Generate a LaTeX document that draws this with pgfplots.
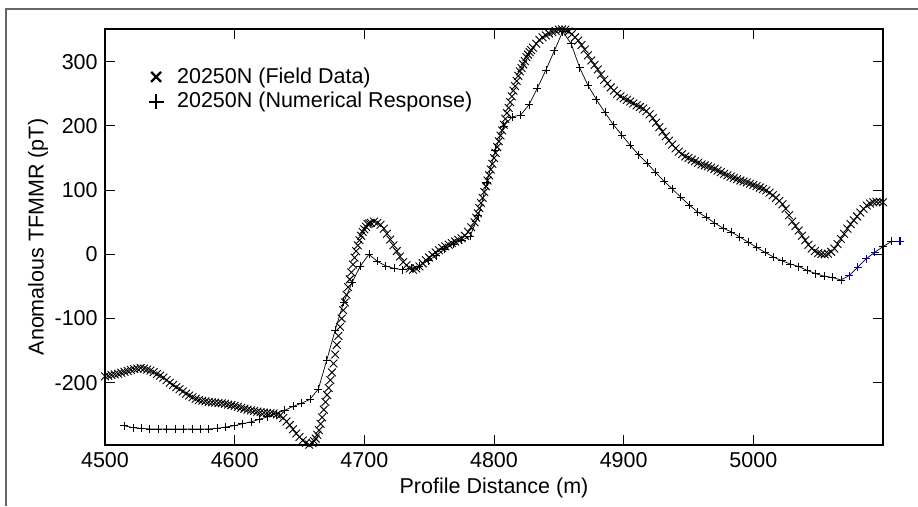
\documentclass[border=0pt]{standalone}
\usepackage{pgfplots}
\pgfplotsset{compat=1.18}
\usepackage{fontspec}
\setmainfont{Liberation Sans}
\begin{document}
\fontsize{21.5}{25}\selectfont
\begin{tikzpicture}[x=1pt,y=1pt]
\useasboundingbox (0,0) rectangle (918,506);
\begin{axis}[
  at={(105pt,61pt)}, anchor=south west,
  scale only axis, width=778pt, height=416pt,
  xmin=4500, xmax=5100, ymin=-297, ymax=351,
  clip=false,
  xtick={4500,4600,4700,4800,4900,5000},
  ytick={-200,-100,0,100,200,300},
  tick align=inside, major tick length=10pt,
  every tick/.style={black, line width=0.9pt},
  axis line style={line width=1.1pt},
  /pgf/number format/assume math mode=true,
  /pgf/number format/1000 sep={},
  tick label style={font=\fontsize{21.5}{25}\selectfont},
  label style={font=\fontsize{21.5}{25}\selectfont},
  xlabel={Profile Distance (m)},
  ylabel={Anomalous TFMMR (pT)},
  xlabel style={yshift=4pt},
  ylabel style={yshift=-8pt},
  legend cell align=left,
  legend image code/.code={\path[draw=none,fill=none] (-9pt,-6pt) (20pt,6pt); \draw[#1] plot coordinates {(0pt,0pt)};},
  legend style={draw=none, fill=none, font=\fontsize{21.5}{25}\selectfont,
    column sep=0pt, row sep=4pt,
    nodes={inner sep=1pt}, at={(axis description cs:0.05,0.915)}, anchor=north west},
]
\addlegendimage{only marks, mark=x, mark size=7, mark options={line width=2.3pt}, black}
\addlegendentry{20250N (Field Data)}
\addlegendimage{only marks, mark=+, mark size=7.5, mark options={line width=1.6pt}, black}
\addlegendentry{20250N (Numerical Response)}

\addplot[forget plot, only marks, mark=x, mark size=5.5, black, mark options={line width=0.9pt}] table {
x y
4500 -190
4502.5 -189
4505 -188
4507.5 -187
4510 -186
4512.5 -184.5
4515 -183
4517.5 -181.5
4520 -180
4522.5 -179
4525 -178
4527.5 -177
4530 -178
4532.5 -179.5
4535 -181
4537.5 -183.5
4540 -186.5
4542.5 -189
4545 -192
4547.5 -196
4550 -200
4552.5 -203.5
4555 -207
4557.5 -210
4560 -213.5
4562.5 -217
4565 -220
4567.5 -222.5
4570 -225
4572.5 -227
4575 -228
4577.5 -229
4580 -230
4582.5 -230.5
4585 -231
4587.5 -231.5
4590 -232
4592.5 -233
4595 -234
4597.5 -235
4600 -236
4602.5 -237.5
4605 -239
4607.5 -240.5
4610 -242
4612.5 -243
4615 -244
4617.5 -245
4620 -246
4622.5 -246.5
4625 -247
4627.5 -247.5
4630 -248
4632.5 -249.5
4635 -251
4637.5 -255
4640 -260.5
4642.5 -266
4645 -272.5
4647.5 -279
4650 -284.5
4652.5 -290
4655 -293.5
4657.5 -296.5
4660 -294
4662.5 -287
4665 -274
4667.5 -254
4670 -230
4672.5 -208
4675 -184
4677.5 -156
4680 -127
4682.5 -100
4685 -75
4687.5 -51
4690 -28
4692.5 -5
4695 14
4697.5 29
4700 39
4702.5 47
4705 49
4707.5 51
4710 49
4712.5 46
4715 40
4717.5 32
4720 23
4722.5 14
4725 5
4727.5 -3.5
4730 -12
4732.5 -17
4735 -22
4737.5 -24
4740 -22
4742.5 -19
4745 -14
4747.5 -9
4750 -5
4752.5 -1
4755 3
4757.5 6.5
4760 10
4762.5 12.5
4765 15
4767.5 17.5
4770 20
4772.5 22.5
4775 25
4777.5 29
4780 35
4782.5 42
4785 50
4787.5 64
4790 80
4792.5 97
4795 115
4797.5 132
4800 150
4802.5 167
4805 185
4807.5 202
4810 220
4812.5 237
4815 255
4817.5 270
4820 285
4822.5 296
4825 307
4827.5 315
4830 322
4832.5 328
4835 334
4837.5 338
4840 341
4842.5 344
4845 346
4847.5 348
4850 350
4852.5 350.5
4855 350
4857.5 347
4860 343
4862.5 338
4865 333
4867.5 326
4870 319
4872.5 310
4875 302
4877.5 295
4880 288
4882.5 280
4885 272
4887.5 266
4890 260
4892.5 255
4895 250
4897.5 246
4900 243
4902.5 240.5
4905 238
4907.5 235
4910 232
4912.5 229.5
4915 227
4917.5 223
4920 218
4922.5 212
4925 205
4927.5 198
4930 191
4932.5 184
4935 177
4937.5 171
4940 165
4942.5 160
4945 156
4947.5 152.5
4950 150
4952.5 147.5
4955 145
4957.5 142.5
4960 140
4962.5 138.5
4965 137
4967.5 135
4970 133
4972.5 130.5
4975 128
4977.5 125.5
4980 123
4982.5 121
4985 119
4987.5 117
4990 115
4992.5 113.5
4995 112
4997.5 110
5000 108
5002.5 106
5005 104
5007.5 102
5010 99.5
5012.5 96
5015 92
5017.5 88
5020 83
5022.5 78
5025 71
5027.5 61
5030 51
5032.5 44
5035 37
5037.5 29
5040 22
5042.5 15
5045 9
5047.5 5
5050 2
5052.5 0.5
5055 0
5057.5 1
5060 4
5062.5 9
5065 16
5067.5 24
5070 32
5072.5 40
5075 47
5077.5 53
5080 59
5082.5 65
5085 71
5087.5 76
5090 79
5092.5 81
5095 82
5097.5 82
5100 81
4661.25 -291
4663.75 -281
4666.25 -264
4668.75 -242
4671.25 -219
4673.75 -196
4676.25 -170
4678.75 -141
4681.25 -113
4683.75 -87
4686.25 -63
4688.75 -39
4691.25 -16
4693.75 5
4696.25 22
4698.75 35
4701.25 43
4703.75 48
4786.25 57
4788.75 72
4791.25 88
4793.75 106
4796.25 123
4798.75 141
4801.25 158
4803.75 176
4806.25 193
4808.75 211
4811.25 228
4813.75 246
4816.25 262
4818.75 278
4821.25 290
4823.75 301
4826.25 311
4828.75 318
};

\addplot[forget plot, black, line width=0.7pt, mark=+, mark size=4, mark options={line width=0.7pt}] table {
x y
4515 -267
4521.5 -270
4528 -271
4534.5 -272
4541 -272
4547.5 -272
4554 -272
4560.5 -272
4567 -272
4573.5 -272
4580 -272
4586.5 -271
4593 -269
4599.5 -267
4606 -264
4612.5 -261
4619 -257
4625.5 -253
4632 -248
4638.5 -243
4645 -237
4651.5 -232
4658 -226
4664.5 -210
4671 -165
4677.5 -118
4684 -75
4690.5 -44
4697 -18
4703.5 0
4710 -11
4716.5 -18
4723 -22
4729.5 -24
4736 -22
4742.5 -18
4749 -10
4755.5 -2
4762 8
4768.5 16
4775 22
4781.5 28
4788 60
4794.5 112
4801 162
4807.5 200
4814 214
4820.5 217
4827 233
4833.5 259
4840 287
4846.5 317
4853 347
4859.5 328
4866 291
4872.5 263
4879 241
4885.5 221
4892 202
4898.5 186
4905 170
4911.5 155
4918 142
4924.5 128
4931 114
4937.5 102
4944 89
4950.5 77
4957 66
4963.5 58
4970 49
4976.5 41
4983 35
4989.5 27
4996 19
5002.5 11
5009 3
5015.5 -4
5022 -10
5028.5 -15
5035 -19
5041.5 -25
5048 -30
5054.5 -34
5061 -36
5067.5 -40
5074 -33
5080.5 -20
5087 -7
5093.5 3
5100 12
5106.5 20
5113 20
};

\addplot[forget plot, only marks, mark=+, mark size=4, blue!80!black, mark options={line width=0.8pt}] table {
x y
5074 -33
5080.5 -20
5087 -7
5093.5 3
5113 20
};
\end{axis}
\draw[line width=1.8pt, black!60] (6,0) -- (6,497) -- (918,497);
\end{tikzpicture}
\end{document}
